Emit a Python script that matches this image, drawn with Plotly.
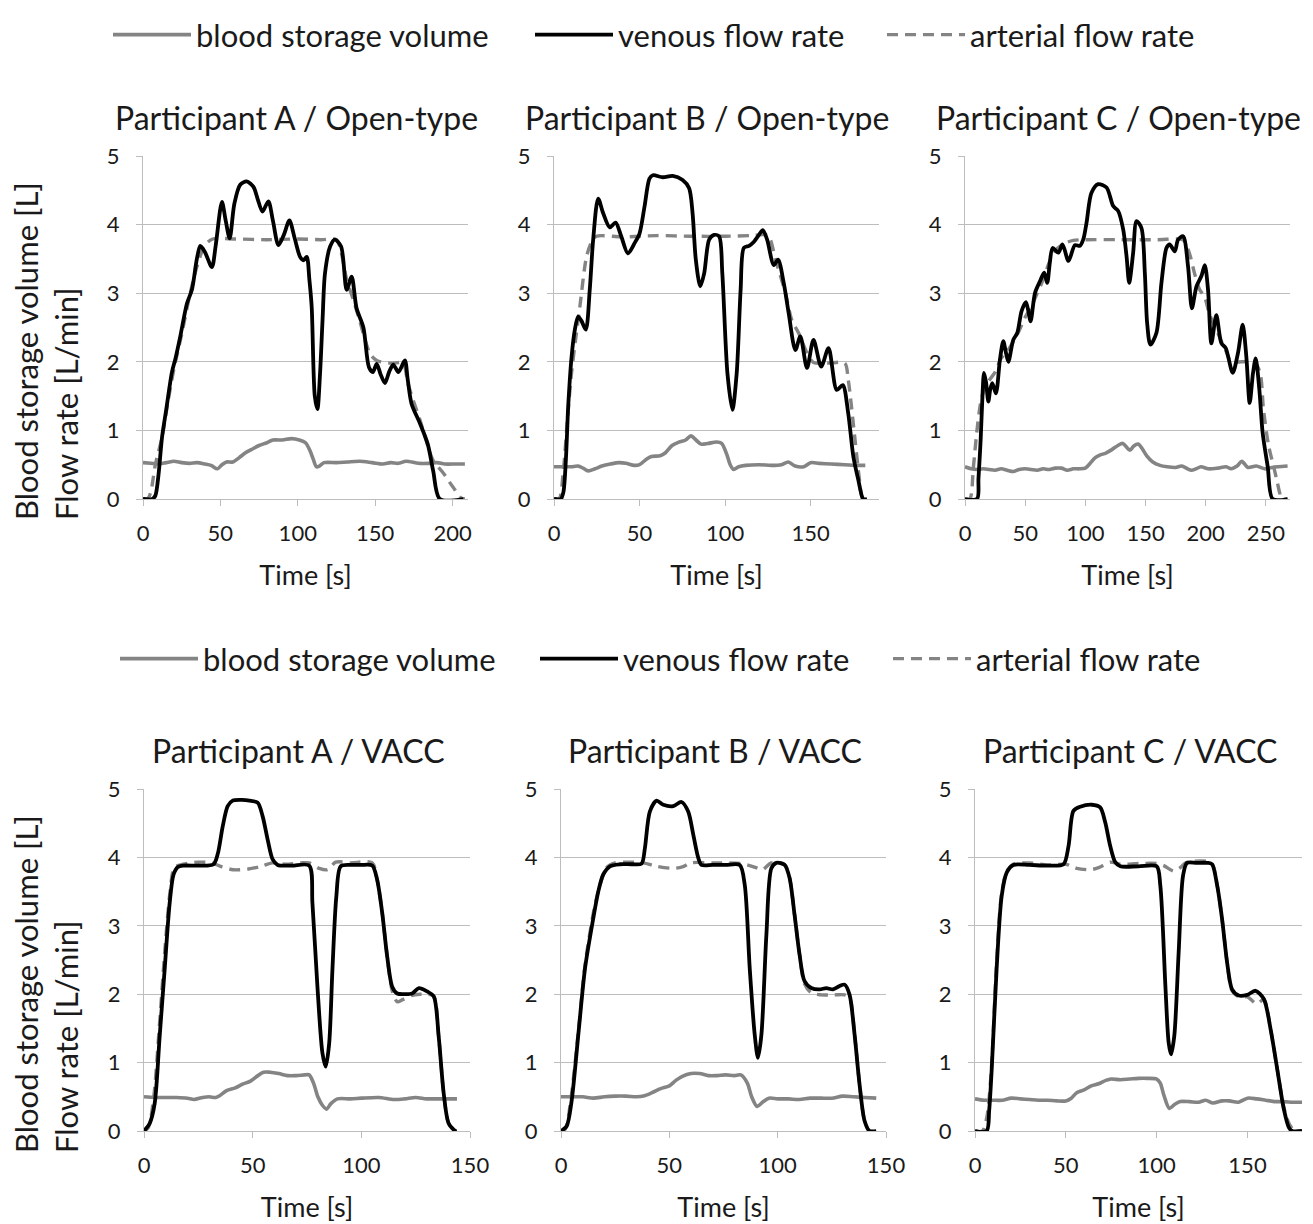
import plotly.graph_objects as go

# ---------------- data ----------------
titles = ["Participant A / Open-type", "Participant B / Open-type", "Participant C / Open-type",
          "Participant A / VACC", "Participant B / VACC", "Participant C / VACC"]
x_max = [210, 190, 270, 150, 150, 180]
series_names = ["blood storage volume", "venous flow rate", "arterial flow rate"]

# Panel 1: Participant A / Open-type
p1_ven_t = [0, 6, 8, 10, 12.3, 15, 18.7, 21, 24, 28.4, 31.6, 34.8, 37, 40, 44.5, 47, 51, 53.5, 56, 59, 62.8, 67, 71.4, 74, 77.2, 81, 84, 87.5, 91, 94.6, 98, 101.5, 103.7, 105.8, 107.5, 109, 111, 112.7, 114.4, 116, 117.6, 120.9, 124, 128, 131.6, 134.8, 138, 142.4, 146, 148.5, 151, 153.5, 156.3, 159, 161.7, 165, 169.2, 171, 173.5, 179, 184, 187.5, 191.8, 207]
p1_ven = [0, 0, 0.05, 0.35, 0.9, 1.3, 1.85, 2.05, 2.36, 2.85, 3.05, 3.5, 3.69, 3.6, 3.38, 3.7, 4.33, 4.05, 3.8, 4.3, 4.58, 4.63, 4.55, 4.38, 4.19, 4.34, 4.05, 3.7, 3.85, 4.06, 3.8, 3.53, 3.48, 3.53, 3.2, 2.8, 1.5, 1.31, 1.83, 2.6, 3.29, 3.68, 3.78, 3.68, 3.05, 3.24, 2.78, 2.5, 1.92, 1.85, 1.97, 1.82, 1.69, 1.85, 1.96, 1.85, 2.02, 1.75, 1.39, 1.1, 0.8, 0.41, 0, 0]
p1_art_t = [0, 3, 5, 8, 12.3, 16, 20, 25, 30, 35, 40, 45, 60, 80, 100, 115, 125, 128, 131.6, 136, 140, 146.7, 151, 160, 168, 171, 174.6, 179, 183, 187.5, 194, 200.4, 205.8, 208]
p1_art = [0, 0, 0.1, 0.5, 0.9, 1.4, 1.9, 2.4, 2.95, 3.4, 3.7, 3.79, 3.79, 3.78, 3.79, 3.78, 3.78, 3.6, 3.2, 2.9, 2.6, 2.12, 2.02, 1.98, 1.98, 1.7, 1.44, 1.15, 0.85, 0.56, 0.38, 0.17, 0.01, 0]
p1_vol_t = [0, 5, 10, 15, 20, 25, 30, 35, 40, 44, 48, 51, 54, 58, 62, 66, 70, 75, 80, 84, 90, 96, 101, 105, 108, 110, 112, 114, 117, 125, 132, 140, 148, 155, 160, 165, 170, 178, 185, 190, 195, 202, 208]
p1_vol = [0.53, 0.52, 0.51, 0.53, 0.55, 0.53, 0.52, 0.53, 0.51, 0.49, 0.44, 0.5, 0.54, 0.54, 0.6, 0.67, 0.72, 0.78, 0.82, 0.86, 0.86, 0.88, 0.86, 0.82, 0.7, 0.58, 0.47, 0.48, 0.53, 0.53, 0.54, 0.55, 0.53, 0.51, 0.53, 0.52, 0.55, 0.52, 0.52, 0.53, 0.51, 0.51, 0.51]

# Panel 2: Participant B / Open-type
p2_ven_t = [0, 4, 5.5, 7, 8.3, 10.3, 12.2, 14.1, 16, 18.6, 20.9, 22.9, 25.8, 28.7, 32.6, 36, 39.3, 43.2, 47.1, 50, 52.9, 55.8, 57.8, 63.6, 69.4, 75.2, 79, 81, 82.9, 85.5, 87.8, 90.7, 93.6, 96.5, 98.4, 101.4, 104.3, 106.8, 109.1, 111, 114, 116.9, 119.8, 122.1, 124.6, 128.5, 131, 134.3, 137.2, 141.1, 144, 147.9, 151.7, 156.2, 160.5, 165.3, 168.8, 172, 175, 177.9, 180.8, 183]
p2_ven = [0, 0, 0.1, 0.6, 1.35, 2.08, 2.47, 2.66, 2.6, 2.47, 3.05, 3.78, 4.38, 4.17, 3.96, 4.03, 3.83, 3.58, 3.73, 3.87, 4.26, 4.67, 4.72, 4.69, 4.71, 4.65, 4.53, 4.17, 3.49, 3.1, 3.29, 3.78, 3.85, 3.83, 3.29, 1.83, 1.3, 1.83, 3.05, 3.66, 3.69, 3.75, 3.85, 3.92, 3.78, 3.41, 3.49, 3.15, 2.71, 2.17, 2.37, 1.91, 2.32, 1.93, 2.2, 1.59, 1.66, 1.25, 0.62, 0.28, 0, 0]
p2_art_t = [0, 3, 5.4, 8, 10.3, 12.5, 15.1, 19, 22, 24.8, 40, 60, 80, 100, 115, 125, 129.5, 135.3, 139, 143, 147.9, 151.7, 160, 170, 172, 176, 178.5, 180.5, 183]
p2_art = [0, 0, 0.4, 1.2, 1.85, 2.3, 2.8, 3.53, 3.75, 3.83, 3.82, 3.84, 3.83, 3.83, 3.84, 3.84, 3.49, 3.0, 2.61, 2.42, 2.13, 1.99, 1.98, 1.98, 1.74, 0.86, 0.3, 0, 0]
p2_vol_t = [0, 5, 10, 14, 17, 20, 24, 28, 33, 38, 42, 47, 50, 54, 57, 62, 65, 69, 73, 77, 80, 83, 86, 90, 95, 98, 101, 103, 105, 108, 112, 120, 127, 133, 137, 141, 146, 150, 155, 162, 170, 178, 182]
p2_vol = [0.47, 0.47, 0.47, 0.48, 0.45, 0.41, 0.44, 0.48, 0.51, 0.53, 0.52, 0.49, 0.5, 0.58, 0.62, 0.63, 0.67, 0.78, 0.83, 0.86, 0.92, 0.86, 0.8, 0.81, 0.83, 0.81, 0.65, 0.5, 0.43, 0.47, 0.49, 0.5, 0.49, 0.5, 0.54, 0.48, 0.47, 0.53, 0.52, 0.51, 0.5, 0.49, 0.49]

# Panel 3: Participant C / Open-type
p3_ven_t = [0, 10, 11.2, 13, 14.5, 15.8, 17.5, 19.4, 21, 22.7, 25.7, 29, 31.8, 33.8, 36, 40.1, 43.4, 47, 50.6, 52.5, 54.5, 58.1, 62.2, 65.8, 68.3, 70.5, 72.8, 77.5, 81, 86, 91.3, 95.4, 98.2, 101, 105, 110.6, 117.6, 123.1, 127.2, 131.4, 134.2, 136.4, 139.7, 142.5, 146.6, 149.4, 151.3, 154, 159, 163.2, 167.4, 170, 174.3, 177, 181.2, 185.3, 188.5, 192.3, 196.4, 199.2, 201.9, 204.7, 208.8, 213, 216.6, 222.4, 226.8, 230.7, 233.7, 236.5, 239.3, 241.5, 244.5, 247.3, 251.5, 255.6, 268]
p3_ven = [0, 0, 0.3, 0.86, 1.5, 1.84, 1.7, 1.42, 1.6, 1.69, 1.54, 2.03, 2.3, 2.15, 2.0, 2.32, 2.42, 2.74, 2.87, 2.75, 2.59, 3.0, 3.17, 3.3, 3.15, 3.45, 3.66, 3.59, 3.71, 3.47, 3.7, 3.69, 3.78, 4.03, 4.46, 4.59, 4.54, 4.27, 4.2, 3.93, 3.54, 3.15, 3.59, 4.05, 3.95, 3.3, 2.57, 2.25, 2.42, 3.15, 3.66, 3.71, 3.61, 3.78, 3.83, 3.39, 2.78, 3.1, 3.25, 3.41, 3.05, 2.27, 2.68, 2.27, 2.2, 1.84, 2.13, 2.54, 2.08, 1.4, 1.84, 2.05, 1.6, 0.96, 0.47, 0, 0]
p3_art_t = [0, 4, 6.9, 9.7, 13, 17, 25, 30, 35, 44, 50, 55, 60, 65, 70, 75, 82, 90, 100, 130, 160, 181, 184, 187, 191, 195, 199, 203, 208, 213, 217, 221, 230, 240, 245, 248, 252, 256, 259, 261.4, 263, 268]
p3_art = [0, 0, 0.45, 0.96, 1.4, 1.65, 1.85, 2.05, 2.15, 2.42, 2.65, 2.8, 3.0, 3.2, 3.45, 3.62, 3.72, 3.77, 3.78, 3.78, 3.78, 3.78, 3.7, 3.55, 3.27, 3.05, 2.95, 2.7, 2.5, 2.3, 2.15, 2.0, 2.0, 2.0, 1.85, 1.3, 0.8, 0.5, 0.28, 0.09, 0, 0]
p3_vol_t = [0, 5, 10, 15, 20, 25, 30, 35, 40, 45, 50, 55, 60, 65, 70, 75, 80, 85, 90, 95, 100, 104, 108, 112, 117, 122, 127, 131, 134, 137, 140, 144, 147, 151, 156, 162, 168, 175, 180, 185, 188, 192, 196, 202, 210, 217, 221, 226, 230, 235, 242, 249, 255, 260, 268]
p3_vol = [0.47, 0.44, 0.43, 0.44, 0.43, 0.42, 0.44, 0.42, 0.4, 0.43, 0.44, 0.43, 0.42, 0.44, 0.43, 0.45, 0.45, 0.42, 0.44, 0.44, 0.45, 0.52, 0.6, 0.64, 0.67, 0.72, 0.78, 0.81, 0.76, 0.71, 0.77, 0.8, 0.74, 0.63, 0.54, 0.49, 0.47, 0.46, 0.48, 0.44, 0.42, 0.44, 0.47, 0.44, 0.45, 0.47, 0.44, 0.48, 0.55, 0.46, 0.48, 0.44, 0.46, 0.47, 0.48]

# Panel 4: Participant A / VACC
p4_ven_t = [0, 2.6, 4.9, 7.2, 9.5, 11.8, 13.6, 15.6, 18, 25, 32, 34, 36.2, 38.5, 40.8, 45, 48.5, 52.3, 54.6, 56.9, 59.2, 61.5, 68, 76, 77.5, 79.8, 82.1, 83.6, 85.2, 86.7, 88.5, 90.5, 95, 100, 105, 107.3, 109.6, 111.9, 114.2, 116.5, 120, 123.4, 126.5, 130.3, 133.3, 135.6, 137.9, 140.2, 143.3, 144]
p4_ven = [0, 0.11, 0.4, 1.38, 2.36, 3.33, 3.75, 3.86, 3.88, 3.88, 3.9, 4.06, 4.45, 4.75, 4.83, 4.84, 4.83, 4.8, 4.6, 4.26, 3.97, 3.89, 3.88, 3.88, 3.33, 2.11, 1.14, 0.94, 1.28, 2.36, 3.43, 3.87, 3.89, 3.89, 3.88, 3.67, 3.19, 2.55, 2.11, 2.01, 2.0, 2.01, 2.09, 2.04, 1.97, 1.38, 0.55, 0.11, 0, 0]
p4_art_t = [0, 2, 4.5, 7, 9.5, 12, 14, 18, 25, 31, 36, 41, 48, 54, 59, 65, 72, 76, 80.6, 84.4, 88.2, 95, 105, 107.3, 109.6, 111.9, 114.2, 116.5, 119, 123, 127, 130.3, 133.3, 135.6, 137.9, 140.2, 143, 144]
p4_art = [0, 0.05, 0.5, 1.5, 2.6, 3.5, 3.85, 3.9, 3.93, 3.92, 3.86, 3.82, 3.83, 3.87, 3.92, 3.9, 3.92, 3.92, 3.84, 3.82, 3.93, 3.92, 3.92, 3.67, 3.19, 2.55, 2.05, 1.89, 1.92, 1.98, 2.0, 2.0, 1.97, 1.38, 0.55, 0.11, 0, 0]
p4_vol_t = [0, 5, 10, 15, 20, 23, 27, 30, 33, 35, 38, 42, 45, 49, 52, 55, 58, 62, 66, 70, 74, 76, 78, 80, 82, 84, 86, 89, 95, 100, 108, 115, 120, 125, 130, 135, 140, 144]
p4_vol = [0.5, 0.49, 0.49, 0.49, 0.48, 0.46, 0.49, 0.5, 0.49, 0.52, 0.59, 0.63, 0.68, 0.73, 0.8, 0.86, 0.86, 0.84, 0.81, 0.81, 0.82, 0.82, 0.7, 0.5, 0.38, 0.32, 0.4, 0.47, 0.47, 0.48, 0.49, 0.46, 0.47, 0.49, 0.47, 0.47, 0.47, 0.47]

# Panel 5: Participant B / VACC
p5_ven_t = [0, 2.6, 4.9, 8, 11.1, 14.9, 17.2, 19.5, 22.6, 27.2, 33, 37.2, 38.7, 41, 44.1, 47.2, 51.8, 55.6, 58.7, 61, 63.3, 64.8, 70, 76, 82.5, 84.8, 87.1, 89.4, 90.9, 92.5, 94.8, 97.1, 99.4, 103.2, 105.5, 107.8, 110.1, 112.4, 115.5, 119.4, 122.4, 125.5, 128.6, 130.9, 133.2, 135.5, 137.8, 140.1, 142.4, 145.5]
p5_ven = [0, 0.07, 0.44, 1.41, 2.38, 3.11, 3.5, 3.75, 3.87, 3.9, 3.9, 3.91, 4.13, 4.67, 4.83, 4.77, 4.75, 4.81, 4.67, 4.34, 4.0, 3.89, 3.89, 3.89, 3.89, 3.6, 2.38, 1.41, 1.07, 1.41, 2.87, 3.84, 3.92, 3.89, 3.7, 3.16, 2.58, 2.19, 2.09, 2.07, 2.09, 2.07, 2.12, 2.14, 1.99, 1.41, 0.68, 0.15, 0, 0]
p5_art_t = [0, 2, 4.5, 8, 11, 15, 18, 21, 25, 30, 38, 44, 51.8, 56, 60, 70, 83, 87, 90, 93, 97, 103.2, 105.5, 107.8, 110.1, 112.4, 115.5, 120, 126, 131, 133.2, 135.5, 137.8, 140.1, 142.4, 145.5]
p5_art = [0, 0.03, 0.45, 1.45, 2.4, 3.2, 3.6, 3.85, 3.92, 3.93, 3.92, 3.87, 3.84, 3.86, 3.92, 3.92, 3.91, 3.88, 3.85, 3.82, 3.92, 3.9, 3.7, 3.16, 2.58, 2.15, 2.02, 1.99, 1.99, 1.99, 1.95, 1.41, 0.68, 0.15, 0, 0]
p5_vol_t = [0, 5, 10, 15, 20, 25, 30, 35, 38, 42, 46, 50, 53, 56, 60, 64, 68, 72, 76, 80, 83, 86, 88, 90.5, 93, 96, 100, 105, 110, 115, 120, 125, 130, 135, 140, 145.5]
p5_vol = [0.5, 0.5, 0.5, 0.48, 0.5, 0.51, 0.51, 0.5, 0.51, 0.56, 0.62, 0.66, 0.74, 0.8, 0.84, 0.84, 0.81, 0.81, 0.82, 0.81, 0.82, 0.7, 0.5, 0.36, 0.42, 0.48, 0.47, 0.47, 0.46, 0.48, 0.48, 0.48, 0.51, 0.5, 0.49, 0.48]

# Panel 6: Participant C / VACC
p6_ven_t = [0, 6.4, 7.8, 9.2, 11.9, 14.7, 17.5, 21.1, 30, 40, 48.7, 51.5, 54.2, 57.9, 64.3, 68.9, 71.7, 74.4, 77.2, 80, 90, 100, 102, 104.8, 106.6, 107.9, 109.7, 112.1, 114.5, 116.7, 122, 128, 130.5, 133.3, 136, 138.8, 141.5, 145.2, 149.8, 154.4, 159, 162.7, 166.4, 170, 172.8, 174.6, 180]
p6_ven = [0, 0, 0.3, 0.9, 2.37, 3.44, 3.78, 3.89, 3.89, 3.88, 3.9, 4.17, 4.68, 4.74, 4.77, 4.73, 4.51, 4.17, 3.93, 3.87, 3.87, 3.87, 3.59, 2.12, 1.29, 1.12, 1.39, 2.61, 3.73, 3.92, 3.92, 3.92, 3.9, 3.59, 3.1, 2.46, 2.07, 1.98, 1.99, 2.05, 1.93, 1.49, 0.9, 0.32, 0.05, 0, 0]
p6_art_t = [0, 4, 6.5, 9, 11.7, 14.5, 17.5, 21, 30, 40, 50, 53, 56, 63.4, 68, 74.4, 80, 90, 100, 103.9, 109.4, 113, 116, 130, 133.3, 136, 138.8, 141.5, 145.2, 150, 155, 159, 162.7, 166.4, 170, 173, 176, 180]
p6_art = [0, 0, 0.2, 0.9, 2.37, 3.44, 3.8, 3.9, 3.92, 3.89, 3.9, 3.87, 3.84, 3.82, 3.85, 3.93, 3.9, 3.91, 3.91, 3.88, 3.8, 3.85, 3.92, 3.92, 3.59, 3.1, 2.46, 2.05, 1.96, 1.96, 1.86, 1.92, 1.49, 0.9, 0.35, 0.1, 0, 0]
p6_vol_t = [0, 5, 10, 15, 20, 25, 30, 35, 40, 45, 50, 53, 56, 60, 64, 68, 72, 75, 80, 85, 90, 95, 100, 102, 104, 107, 110, 113, 118, 123, 127, 131, 136, 140, 145, 150, 155, 160, 165, 170, 175, 180]
p6_vol = [0.47, 0.45, 0.45, 0.45, 0.48, 0.47, 0.46, 0.45, 0.45, 0.44, 0.44, 0.48, 0.56, 0.6, 0.66, 0.69, 0.74, 0.76, 0.75, 0.76, 0.77, 0.77, 0.76, 0.7, 0.52, 0.33, 0.39, 0.43, 0.43, 0.42, 0.45, 0.41, 0.44, 0.44, 0.42, 0.48, 0.47, 0.45, 0.43, 0.43, 0.42, 0.42]

panels = [
    (p1_vol_t, p1_vol, p1_ven_t, p1_ven, p1_art_t, p1_art),
    (p2_vol_t, p2_vol, p2_ven_t, p2_ven, p2_art_t, p2_art),
    (p3_vol_t, p3_vol, p3_ven_t, p3_ven, p3_art_t, p3_art),
    (p4_vol_t, p4_vol, p4_ven_t, p4_ven, p4_art_t, p4_art),
    (p5_vol_t, p5_vol, p5_ven_t, p5_ven, p5_art_t, p5_art),
    (p6_vol_t, p6_vol, p6_ven_t, p6_ven, p6_art_t, p6_art),
]

# ---------------- layout / styling ----------------
OFF = 8                      # default page margin of the html body
W, H = 1313 - OFF, 1224 - OFF
FONT = "Lato"
TXT = "#1a1a1a"
GRAY = "#848484"
GRID = "#bdbdbd"


def px(xp):
    return (xp - OFF) / W


def py(yp):
    return 1 - (yp - OFF) / H


# plot-area boxes in screen pixels (left, right, top, bottom)
boxes = [(143, 468, 156, 499), (554, 879, 156, 499), (965, 1290, 156, 499),
         (144, 470, 789, 1131), (561, 886, 789, 1131), (975, 1302, 789, 1131)]
# legend item positions (sample start x, top y of legend box) for top and bottom legend rows
legend_pos = [[(113, 8), (535, 8), (887, 8)], [(120, 632), (540, 632), (893, 632)]]

line_styles = [dict(color=GRAY, width=3.6),
               dict(color="black", width=3.8),
               dict(color=GRAY, width=3.4, dash="11px,7px")]

fig = go.Figure()
for i, (vt, v, ft, f, at, a) in enumerate(panels):
    xa = "x" if i == 0 else f"x{i+1}"
    ya = "y" if i == 0 else f"y{i+1}"
    show = i in (0, 3)
    row = 0 if i < 3 else 1
    legs = ["legend" if row == 0 else "legend4",
            "legend2" if row == 0 else "legend5",
            "legend3" if row == 0 else "legend6"]
    # draw order: volume, arterial, venous (venous on top)
    for s, (tx, ty) in [(0, (vt, v)), (2, (at, a)), (1, (ft, f))]:
        fig.add_trace(go.Scatter(x=tx, y=ty, mode="lines", name=series_names[s],
                                 line=dict(shape="spline", smoothing=0.8, **line_styles[s]),
                                 xaxis=xa, yaxis=ya, showlegend=show, legend=legs[s]))

layout = dict(width=W, height=H, margin=dict(l=0, r=0, t=0, b=0, autoexpand=False),
              paper_bgcolor="white", plot_bgcolor="white",
              font=dict(family=FONT, size=24, color=TXT))

annotations = []
for i, (l, r, t, b) in enumerate(boxes):
    k = "" if i == 0 else str(i + 1)
    layout["xaxis" + k] = dict(domain=[px(l), px(r)], range=[0, x_max[i]], dtick=50, tick0=0,
                               anchor="y" + k, showline=True, linecolor=GRID, linewidth=1,
                               ticks="outside", ticklen=6, tickcolor=GRID, showgrid=False,
                               zeroline=False, automargin=False, ticklabelstandoff=9,
                               tickfont=dict(size=22, color=TXT),
                               title=dict(text="Time [s]", font=dict(size=27, color=TXT), standoff=20))
    layout["yaxis" + k] = dict(domain=[py(b), py(t)], range=[0, 5], dtick=1, tick0=0,
                               anchor="x" + k, showline=True, linecolor=GRID, linewidth=1,
                               showgrid=True, gridcolor=GRID, gridwidth=1, zeroline=False,
                               ticks="outside", ticklen=6, tickcolor=GRID, automargin=False,
                               ticklabelstandoff=12, tickfont=dict(size=22, color=TXT))
    annotations.append(dict(text=titles[i], x=px((l + r) / 2 - 9), y=py(t - 39),
                            xref="paper", yref="paper", xanchor="center", yanchor="middle",
                            showarrow=False, font=dict(size=32, color=TXT)))

for yc in (351, 984):
    annotations.append(dict(text="Blood storage volume [L]<br>Flow rate [L/min]", textangle=-90,
                            x=px(46), y=py(yc), xref="paper", yref="paper",
                            xanchor="center", yanchor="middle", align="left", showarrow=False,
                            font=dict(size=31, color=TXT)))

layout["annotations"] = annotations
legend_keys = [["legend", "legend2", "legend3"], ["legend4", "legend5", "legend6"]]
for r in range(2):
    for j in range(3):
        sx, sy = legend_pos[r][j]
        layout[legend_keys[r][j]] = dict(orientation="h", xanchor="left", x=px(sx - 5),
                                         yanchor="top", y=py(sy),
                                         font=dict(size=31, color=TXT), bgcolor="rgba(0,0,0,0)",
                                         itemwidth=78)
fig.update_layout(**layout)

fig.write_html("out.html")
